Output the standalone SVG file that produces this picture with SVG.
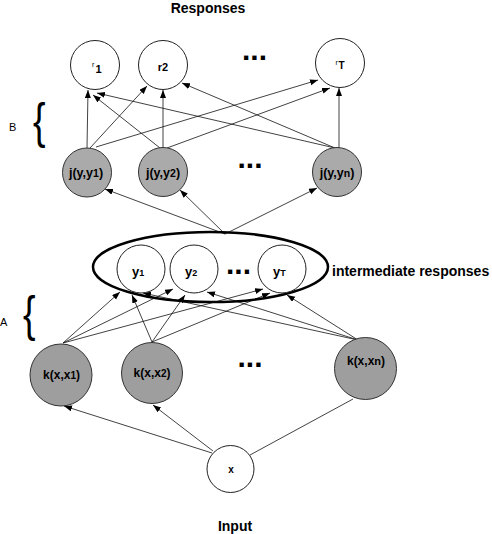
<svg xmlns="http://www.w3.org/2000/svg" width="492" height="534" viewBox="0 0 492 534">
<defs>
<marker id="ah" markerUnits="userSpaceOnUse" markerWidth="9" markerHeight="7" refX="8" refY="3" orient="auto">
<path d="M0,0 L8,3 L0,6 z" fill="#000"/>
</marker>
<style>
.t{font-family:"Liberation Sans",Arial,sans-serif;fill:#000}
.b{font-weight:bold}
.wn{fill:#fff;stroke:#222;stroke-width:1}
.jn{fill:#aaaaaa;stroke:#333;stroke-width:1}
.kn{fill:#9e9e9e;stroke:#333;stroke-width:1}
.e{stroke:#111;stroke-width:0.8;fill:none}
.a{stroke:#111;stroke-width:0.8;fill:none;marker-end:url(#ah)}
.dots{font-family:"Liberation Sans",Arial,sans-serif;font-weight:bold;font-size:30px;text-anchor:middle}
</style>
</defs>
<rect width="492" height="534" fill="#fff"/>

<g id="connectors">
<!-- layer B -->
<line class="a" x1="87" y1="148" x2="88" y2="90"/>
<line class="a" x1="90" y1="148" x2="147" y2="86"/>
<line class="a" x1="96" y1="147" x2="318" y2="80"/>
<line class="a" x1="160" y1="148" x2="93" y2="95"/>
<line class="a" x1="163" y1="148" x2="163" y2="90"/>
<line class="a" x1="167" y1="148" x2="330" y2="88"/>
<line class="a" x1="335" y1="148" x2="97" y2="93"/>
<line class="a" x1="335" y1="148" x2="182" y2="83"/>
<line class="a" x1="339" y1="148" x2="339" y2="88"/>
<!-- ellipse to j -->
<line class="a" x1="225" y1="234" x2="105" y2="189"/>
<line class="a" x1="225" y1="234" x2="180" y2="190"/>
<line class="a" x1="225" y1="234" x2="317" y2="188"/>
<!-- layer A -->
<line class="a" x1="63" y1="343" x2="120" y2="292"/>
<line class="a" x1="63" y1="343" x2="173" y2="289"/>
<line class="a" x1="63" y1="343" x2="263" y2="289"/>
<line class="a" x1="152" y1="342" x2="132" y2="295"/>
<line class="a" x1="152" y1="342" x2="185" y2="295"/>
<line class="a" x1="152" y1="342" x2="270" y2="293"/>
<line class="a" x1="358" y1="340" x2="143" y2="293"/>
<line class="a" x1="358" y1="340" x2="207" y2="292"/>
<line class="a" x1="358" y1="340" x2="287" y2="295"/>
<!-- input -->
<line class="a" x1="212" y1="453" x2="64" y2="406"/>
<line class="a" x1="213" y1="451" x2="153" y2="405"/>
<line class="e" x1="250" y1="455" x2="353" y2="399"/>
</g>

<text class="t b" x="208" y="13" font-size="14" text-anchor="middle">Responses</text>
<text class="t b" x="235" y="531" font-size="14" text-anchor="middle">Input</text>

<g id="r1"><circle class="wn" cx="95" cy="65" r="24.5"/><text class="t" x="92" y="67" font-size="7">r</text><text class="t b" x="95.5" y="73" font-size="11">1</text></g>
<g id="r2"><circle class="wn" cx="163" cy="65" r="24.5"/><text class="t b" x="163" y="71" font-size="11" text-anchor="middle">r2</text></g>
<g id="rT"><circle class="wn" cx="340" cy="63" r="24.5"/><text class="t" x="335.5" y="65" font-size="7">r</text><text class="t b" x="338.5" y="69" font-size="10">T</text></g>
<text class="dots" x="254.5" y="60">...</text>

<g id="braceB"><text class="t" x="0" y="0" font-size="50" transform="translate(33,138) scale(0.75,1)">{</text><text class="t" x="9" y="131" font-size="11">B</text></g>

<g id="jy1"><circle class="jn" cx="87" cy="172.5" r="24.5"/><text class="t b" x="86" y="177" font-size="12.5" text-anchor="middle">j(y,y<tspan font-size="10.5">1</tspan>)</text></g>
<g id="jy2"><circle class="jn" cx="163" cy="172" r="24.5"/><text class="t b" x="163" y="177" font-size="12.5" text-anchor="middle">j(y,y<tspan font-size="10.5">2</tspan>)</text></g>
<g id="jyn"><circle class="jn" cx="337" cy="172" r="24.5"/><text class="t b" x="337" y="177" font-size="12.5" text-anchor="middle">j(y,y<tspan font-size="10.5">n</tspan>)</text></g>
<text class="dots" x="250" y="168">...</text>

<g id="intermediate">
<ellipse cx="210.5" cy="267" rx="117.5" ry="35" fill="none" stroke="#000" stroke-width="2.5"/>
<text class="t b" x="332" y="276" font-size="14">intermediate responses</text>
</g>
<g id="y1"><circle class="wn" cx="141" cy="269" r="24"/><text class="t b" x="132" y="276" font-size="13">y<tspan font-size="9">1</tspan></text></g>
<g id="y2"><circle class="wn" cx="194" cy="269" r="24"/><text class="t b" x="185" y="276" font-size="13">y<tspan font-size="9">2</tspan></text></g>
<g id="yT"><circle class="wn" cx="282" cy="269" r="24"/><text class="t b" x="273" y="276" font-size="13">y<tspan font-size="9">T</tspan></text></g>
<text class="dots" x="238.5" y="274">...</text>

<g id="braceA"><text class="t" x="0" y="0" font-size="50" transform="translate(23,331) scale(0.75,1)">{</text><text class="t" x="0" y="326" font-size="11">A</text></g>

<g id="kx1"><circle class="kn" cx="61" cy="375" r="31"/><text class="t b" x="61.5" y="379" font-size="12" text-anchor="middle">k(x,x<tspan font-size="10">1</tspan>)</text></g>
<g id="kx2"><circle class="kn" cx="152" cy="373" r="30.5"/><text class="t b" x="152" y="377" font-size="12" text-anchor="middle">k(x,x<tspan font-size="10">2</tspan>)</text></g>
<g id="kxn"><circle class="kn" cx="365.5" cy="368.5" r="31"/><text class="t b" x="366" y="365" font-size="12" text-anchor="middle">k(x,x<tspan font-size="11">n</tspan>)</text></g>
<text class="dots" x="250" y="367">...</text>

<g id="x"><circle class="wn" cx="230.5" cy="469" r="23.5"/><text class="t b" x="231" y="473" font-size="10" text-anchor="middle">x</text></g>
</svg>
